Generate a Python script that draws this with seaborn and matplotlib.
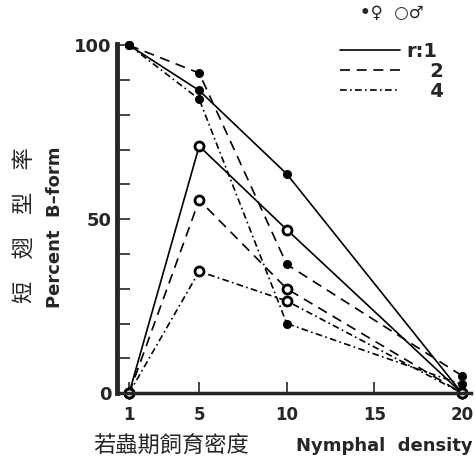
import matplotlib
matplotlib.use('Agg')
import matplotlib.pyplot as plt
import seaborn as sns
import pandas as pd
from matplotlib.lines import Line2D
from matplotlib.ticker import MultipleLocator

# ---- data ----
density = [1, 5, 10, 20]
female_r1 = [100, 87, 63, 0]
female_r2 = [100, 92, 37, 5]
female_r4 = [100, 84.5, 20, 2.5]
male_r1 = [0, 71, 47, 0]
male_r2 = [0, 55.5, 30, 0]
male_r4 = [0, 35, 26.5, 0]
ratios = ['1', '2', '4']
legend_labels = ['r:1', '\u2007\u2009 2', '\u2007\u2009 4']
x_ticks = [1, 5, 10, 15, 20]
y_ticks = [0, 50, 100]

rows = []
for sex, series in [('female', [female_r1, female_r2, female_r4]),
                    ('male', [male_r1, male_r2, male_r4])]:
    for r, vals in zip(ratios, series):
        for d, v in zip(density, vals):
            rows.append(dict(density=d, percent=v, sex=sex, ratio=r))
df = pd.DataFrame(rows)

sns.set_style('ticks')
plt.rcParams['font.family'] = ['DejaVu Sans']

fig = plt.figure(figsize=(4.75, 4.68), dpi=100)
ax = fig.add_axes([0.246, 0.160, 0.745, 0.747])

dashes = {'1': '', '2': (6, 4), '4': (4, 2, 1, 2)}
markers = {'1': 'o', '2': 'o', '4': 'o'}
style = dict(female=dict(ms=5.5, mfc='black', mew=1.0),
             male=dict(ms=6.5, mfc='white', mew=2.0))
for sex in ['female', 'male']:
    sub = df[df.sex == sex]
    sns.lineplot(data=sub, x='density', y='percent', style='ratio',
                 style_order=ratios, dashes=dashes, markers=markers,
                 color='black', lw=1.2, mec='black', legend=False,
                 estimator=None, sort=False, ax=ax, clip_on=False,
                 **style[sex])

ax.set_xlim(0.3, 20.5)
ax.set_ylim(0, 100.5)
ax.set_xticks(x_ticks)
ax.set_yticks(y_ticks)
ax.yaxis.set_minor_locator(MultipleLocator(10))
ax.set_xlabel('')
ax.set_ylabel('')
for s in ['top', 'right']:
    ax.spines[s].set_visible(False)
ax.spines['left'].set_linewidth(3.5)
ax.spines['bottom'].set_linewidth(2.5)
ax.tick_params(axis='y', which='both', direction='in', length=9, width=1.2,
               pad=4, labelsize=13)
ax.tick_params(axis='x', which='major', direction='in', length=8, width=1.2,
               pad=9, labelsize=12)
for lab in ax.get_xticklabels() + ax.get_yticklabels():
    lab.set_fontweight('bold')

# axis titles
fig.text(0.052, 0.52, '短\u3000翅\u3000型\u3000率', rotation=90,
         ha='center', va='center', fontsize=16,
         family=['Noto Sans CJK TC', 'DejaVu Sans'])
fig.text(0.116, 0.515, 'Percent  B\u2013form', rotation=90, ha='center',
         va='center', fontsize=13, fontweight='bold')
fig.text(0.196, 0.046, '若蟲期飼育密度', ha='left', va='center', fontsize=16,
         family=['Noto Sans CJK TC', 'DejaVu Sans'])
fig.text(0.995, 0.046, 'Nymphal  density', ha='right', va='center',
         fontsize=13, fontweight='bold')

# legend
fig.text(0.825, 0.972, '\u2022\u2640  \u25cb\u2642', ha='center', va='center',
         fontsize=12, fontweight='bold')
handles = [Line2D([], [], color='black', lw=1.2, dashes=dashes[r] if dashes[r] else [])
           for r in ratios]
handles[0].set_linestyle('-')
leg = ax.legend(handles, legend_labels, loc='upper right',
                bbox_to_anchor=(0.972, 0.948), bbox_transform=fig.transFigure,
                frameon=False, handlelength=3.1, handletextpad=0.3,
                labelspacing=0.05, prop=dict(size=14, weight='bold'))

fig.savefig('out.png', dpi=100)
